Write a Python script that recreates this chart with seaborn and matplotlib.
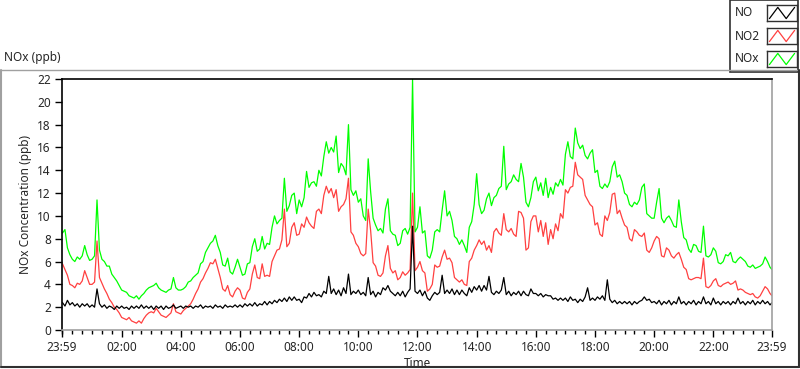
import numpy as np
import pandas as pd
import seaborn as sns
import matplotlib.pyplot as plt
from matplotlib.patches import Rectangle
from matplotlib.lines import Line2D

# valores a cada 5 minutos (uma linha = uma hora)
nox = [
    8.5, 8.8, 7.2, 6.6, 6.2, 6.0, 6.4, 6.2, 6.5, 7.4, 6.6, 6.1,
    6.2, 6.5, 11.4, 7.0, 6.2, 6.0, 5.6, 5.6, 4.9, 4.6, 4.3, 3.9,
    3.5, 3.4, 3.3, 3.0, 2.9, 2.8, 3.0, 2.7, 3.0, 3.2, 3.5, 3.7,
    3.8, 3.9, 4.1, 3.7, 3.5, 3.4, 3.3, 3.5, 3.6, 4.6, 3.7, 3.5,
    3.5, 3.6, 3.8, 4.2, 4.3, 4.6, 4.8, 5.0, 5.8, 6.0, 6.8, 7.2,
    7.6, 7.8, 8.3, 7.4, 6.8, 5.7, 5.6, 6.3, 5.1, 4.9, 5.5, 6.2,
    5.5, 4.8, 4.9, 5.8, 5.9, 7.3, 8.0, 6.9, 7.1, 8.2, 7.1, 7.6,
    7.5, 9.0, 10.0, 9.3, 9.6, 9.8, 13.3, 10.4, 10.9, 11.8, 12.0, 10.2,
    11.4, 10.8, 11.6, 13.9, 12.5, 12.9, 13.0, 12.6, 14.0, 13.5, 15.2, 16.5,
    15.5, 16.0, 15.6, 17.0, 13.8, 14.6, 14.3, 13.6, 18.0, 12.3, 11.8, 12.2,
    11.2, 11.5, 10.0, 9.6, 15.0, 12.1, 9.8, 9.2, 8.7, 8.9, 8.5, 10.6,
    11.5, 8.7, 8.4, 8.3, 7.4, 7.6, 8.7, 8.9, 8.4, 9.0, 22.0, 8.6,
    9.0, 10.8, 8.5, 8.7, 6.5, 6.3, 7.0, 8.6, 8.8, 8.6, 10.5, 12.2,
    10.0, 10.4, 9.6, 8.2, 8.0, 7.5, 7.9, 7.4, 6.8, 9.0, 9.5, 11.0,
    13.7, 11.0, 10.2, 10.5, 11.5, 12.0, 10.9, 11.6, 11.8, 12.4, 12.6, 16.1,
    12.3, 12.8, 13.0, 13.6, 13.2, 13.0, 14.6, 13.4, 11.2, 10.8, 11.6, 13.0,
    13.4, 12.2, 12.9, 11.8, 13.3, 11.6, 12.5, 11.9, 12.9, 12.6, 13.2, 12.7,
    15.4, 16.5, 15.2, 15.0, 17.7, 16.4, 15.9, 16.2, 15.3, 15.0, 15.5, 15.8,
    13.8, 14.0, 12.6, 12.4, 12.8, 12.5, 13.0, 14.3, 14.8, 13.4, 13.6, 13.0,
    12.0, 11.8, 11.0, 10.8, 11.2, 11.0, 11.4, 12.5, 12.8, 10.2, 10.0, 9.8,
    9.8, 11.2, 12.4, 9.8, 9.4, 9.8, 10.0, 9.6, 9.1, 9.0, 11.4, 9.5,
    8.1, 7.9, 7.1, 6.8, 7.5, 7.4, 6.9, 6.8, 9.1, 6.5, 6.4, 6.6,
    7.2, 6.9, 5.9, 5.8, 6.0, 6.6, 6.5, 6.8, 6.0, 5.9, 6.2, 6.4,
    6.2, 6.0, 5.6, 5.5, 5.7, 5.4, 5.5, 5.6, 5.8, 6.4, 6.0, 5.5,
    5.3,
]
no2 = [
    5.8, 5.3, 4.8, 4.0, 3.9, 3.7, 4.1, 4.0, 4.3, 5.2, 4.6, 4.0,
    4.0, 4.2, 7.8, 4.6, 4.1, 3.6, 3.2, 2.7, 2.4, 2.0, 1.8, 1.5,
    1.1, 1.0, 0.9, 1.1, 0.8, 0.7, 0.6, 0.8, 0.6, 1.0, 1.3, 1.5,
    1.6, 1.5, 1.9, 1.6, 1.3, 1.2, 1.1, 1.3, 1.5, 2.3, 1.6, 1.5,
    1.4, 1.7, 1.9, 2.1, 2.3, 2.7, 3.2, 3.6, 4.2, 4.5, 5.0, 5.4,
    5.9, 5.8, 6.2, 5.4, 4.6, 3.6, 3.4, 3.9, 3.1, 2.9, 3.4, 3.7,
    3.5, 2.8, 2.7, 3.3, 3.6, 4.9, 5.7, 4.6, 4.5, 5.8, 4.7, 4.8,
    4.7, 6.0, 6.5, 7.0, 7.1, 7.9, 10.6, 7.3, 7.6, 9.0, 9.4, 8.3,
    8.4, 9.3, 9.0, 9.9, 9.4, 9.1, 8.9, 10.4, 10.6, 10.2, 11.8, 12.6,
    12.0, 12.4, 11.6, 12.3, 10.4, 10.8, 11.0, 11.5, 13.3, 8.6, 8.3, 7.6,
    7.3, 6.7, 6.5, 6.7, 10.6, 8.7, 5.9, 5.6, 4.8, 4.7, 5.0, 6.5,
    7.4, 5.4, 5.0, 5.2, 4.4, 4.6, 5.1, 4.8, 5.0, 5.3, 12.0, 5.2,
    5.5, 6.0, 5.2, 5.0, 3.4, 3.6, 4.0, 5.7, 5.5, 5.6, 6.4, 7.0,
    6.2, 6.3, 5.9, 4.6, 4.4, 4.2, 4.4, 4.0, 3.9, 6.0, 6.3, 7.0,
    7.4, 7.9, 7.5, 7.8, 7.0, 7.4, 6.8, 8.6, 8.9, 8.5, 8.3, 10.2,
    8.8, 8.6, 8.9, 8.4, 8.2, 10.4, 10.3, 9.8, 7.0, 7.2, 9.5, 10.0,
    10.0, 8.6, 9.6, 8.2, 9.4, 7.5, 8.8, 8.0, 9.3, 8.7, 10.2, 9.8,
    12.3, 12.0, 12.5, 12.6, 14.7, 13.6, 13.4, 13.2, 11.8, 11.4, 11.0, 10.8,
    9.2, 9.4, 8.4, 8.2, 10.0, 9.6, 10.3, 11.9, 12.0, 10.2, 10.5, 9.8,
    9.2, 9.0, 8.0, 7.8, 8.8, 8.6, 8.3, 8.2, 8.5, 7.0, 6.8, 7.2,
    7.8, 8.2, 8.0, 6.5, 6.4, 7.2, 7.0, 6.5, 6.3, 6.6, 6.8, 6.2,
    5.5, 5.3, 4.5, 4.4, 4.5, 4.6, 4.6, 4.5, 6.3, 3.8, 3.7, 3.9,
    4.3, 4.5, 3.9, 3.8, 4.0, 4.1, 4.2, 4.0, 4.1, 4.3, 3.5, 3.6,
    3.5, 3.3, 3.2, 3.1, 3.2, 2.9, 2.8, 3.0, 3.4, 3.8, 3.6, 3.2,
    3.0,
]
no = [
    2.4, 2.1, 2.6, 2.2, 2.4, 2.1, 2.3, 2.0, 2.3, 2.1, 2.3, 2.0,
    2.2, 2.0, 3.6, 2.3, 2.0, 2.2, 1.9, 2.1, 2.0, 1.8, 2.1, 1.9,
    2.1, 1.9, 2.0, 1.8, 2.1, 1.9, 2.1, 1.9, 2.2, 1.9, 2.1, 1.9,
    2.1, 1.8, 2.1, 1.9, 2.1, 1.8, 2.1, 1.9, 2.0, 2.2, 1.9, 2.0,
    2.1, 1.9, 2.1, 2.0, 2.1, 1.9, 2.1, 2.0, 2.2, 1.9, 2.1, 2.0,
    2.1, 1.9, 2.2, 2.0, 2.1, 1.9, 2.2, 2.0, 2.1, 2.0, 2.2, 2.0,
    2.2, 2.0, 2.3, 2.1, 2.3, 2.1, 2.4, 2.1, 2.3, 2.2, 2.5, 2.2,
    2.5, 2.3, 2.6, 2.4, 2.7, 2.5, 2.8, 2.5, 2.9, 2.6, 2.9, 2.6,
    2.7, 2.4, 2.9, 2.8, 3.2, 2.9, 3.3, 3.0, 3.1, 2.9, 3.4, 3.2,
    4.7, 3.2, 3.6, 3.1, 3.5, 3.0, 3.7, 3.2, 4.9, 3.1, 3.4, 3.2,
    3.5, 3.1, 3.3, 3.0, 4.6, 3.1, 3.4, 2.9, 3.3, 3.1, 3.7, 3.5,
    3.9, 3.4, 3.2, 3.0, 3.3, 3.0, 3.4, 2.9, 3.3, 3.6, 9.1, 3.4,
    3.2, 3.5, 3.0, 3.4, 2.8, 2.6, 3.0, 3.3, 3.1, 3.3, 4.8, 3.2,
    3.5, 3.2, 3.6, 3.1, 3.5, 3.1, 3.5, 3.2, 3.0, 3.7, 3.3, 3.8,
    3.5, 3.9, 3.4, 3.9, 3.5, 4.7, 3.3, 3.1, 3.4, 3.2, 3.5, 4.6,
    3.1, 3.4, 3.0, 3.3, 3.1, 3.4, 3.0, 3.4, 3.1, 3.0, 3.6, 3.2,
    3.2, 3.0, 3.2, 2.9, 3.1, 3.0, 3.0, 2.7, 2.8, 2.6, 2.8, 2.6,
    2.8, 2.5, 2.9, 2.6, 2.7, 2.4, 2.7, 2.5, 2.9, 3.7, 2.6, 2.8,
    2.6, 2.9, 2.7, 3.0, 2.6, 4.4, 2.7, 2.4, 2.6, 2.3, 2.5, 2.3,
    2.5, 2.3, 2.5, 2.2, 2.5, 2.3, 2.5, 2.6, 2.9, 2.6, 2.7, 2.4,
    2.5, 2.3, 2.6, 2.2, 2.5, 2.3, 2.6, 2.2, 2.5, 2.3, 2.9, 2.3,
    2.5, 2.2, 2.5, 2.3, 2.6, 2.2, 2.5, 2.3, 2.9, 2.3, 2.5, 2.2,
    2.8, 2.3, 2.5, 2.2, 2.5, 2.3, 2.5, 2.2, 2.5, 2.3, 2.8, 2.3,
    2.5, 2.2, 2.5, 2.3, 2.6, 2.2, 2.5, 2.3, 2.6, 2.3, 2.5, 2.2,
    2.4,
]

tick_labels = ["23:59", "02:00", "04:00", "06:00", "08:00", "10:00", "12:00",
               "14:00", "16:00", "18:00", "20:00", "22:00", "23:59"]
series = ["NO", "NO2", "NOx"]
cores = {"NO": "#000000", "NO2": "#ff4040", "NOx": "#00ff00"}

horas = np.arange(len(nox)) / 12.0
horas[-1] = 24 - 1 / 60
df = pd.DataFrame({"hora": horas, "NO": no, "NO2": no2, "NOx": nox})

sns.set_style("white")
plt.rcParams["font.family"] = ["Noto Sans", "DejaVu Sans"]
plt.rcParams["font.size"] = 8.5

W, H = 800, 369
fig = plt.figure(figsize=(W / 100, H / 100), dpi=100)


def fx(px):
    return px / W


def fy(py):
    return 1 - py / H


# moldura externa
fig.add_artist(Line2D([fx(1), fx(798)], [fy(70), fy(70)], transform=fig.transFigure, color="#a0a0a0", lw=1))
fig.add_artist(Line2D([fx(1), fx(1)], [fy(70), fy(367)], transform=fig.transFigure, color="#a0a0a0", lw=1.5))
fig.add_artist(Line2D([fx(1), fx(799)], [fy(367), fy(367)], transform=fig.transFigure, color="#303030", lw=1.5))
fig.add_artist(Line2D([fx(798.5), fx(798.5)], [fy(70), fy(367)], transform=fig.transFigure, color="#303030", lw=1.5))

ax = fig.add_axes([fx(62), fy(330), fx(772) - fx(62), fy(79) - fy(330)])

for s in ["NOx", "NO2", "NO"]:
    sns.lineplot(data=df, x="hora", y=s, color=cores[s], linewidth=0.9, ax=ax, legend=False)

ax.set_xlim(-1 / 60, 24 - 1 / 60)
ax.set_ylim(0, 22)
ax.set_yticks(np.arange(0, 23, 2))
ax.set_xticks([-1 / 60] + list(range(2, 23, 2)) + [24 - 1 / 60])
ax.set_xticklabels(tick_labels)
ax.set_xticks(np.arange(0, 24, 1 / 3), minor=True)
ax.tick_params(axis="both", which="major", direction="out", length=5, width=1,
               color="black", labelsize=8.5, pad=3, left=True, bottom=True)
ax.tick_params(axis="x", which="minor", direction="out", length=3, width=1,
               color="black", bottom=True)
ax.set_xlabel("Time", fontsize=8.5, labelpad=2)
ax.set_ylabel("NOx Concentration (ppb)", fontsize=8.5, labelpad=4)

for lado in ["left", "top"]:
    ax.spines[lado].set_color("black")
    ax.spines[lado].set_linewidth(1.2)
for lado in ["right", "bottom"]:
    ax.spines[lado].set_color("#a0a0a0")
    ax.spines[lado].set_linewidth(1.2)

fig.text(fx(4), fy(58), "NOx (ppb)", ha="left", va="center", fontsize=8.5)

# legenda no estilo LabVIEW
fig.add_artist(Rectangle((fx(730), fy(72)), fx(798) - fx(730), fy(0) - fy(72),
                         transform=fig.transFigure, fill=False,
                         edgecolor="#303030", lw=1.2))
for i, s in enumerate(series):
    cy = 13 + 23 * i
    fig.text(fx(735), fy(cy), s, ha="left", va="center", fontsize=8.5)
    sw = fig.add_axes([fx(767), fy(cy + 8), fx(797) - fx(767), fy(cy - 8) - fy(cy + 8)])
    sw.plot([0.08, 0.36, 0.64, 0.92], [0.15, 0.85, 0.15, 0.85], color=cores[s], lw=0.9)
    sw.set_xlim(0, 1)
    sw.set_ylim(0, 1)
    sw.set_xticks([])
    sw.set_yticks([])
    for sp in sw.spines.values():
        sp.set_color("#303030")
        sp.set_linewidth(1)

fig.savefig("out.png", dpi=100)
